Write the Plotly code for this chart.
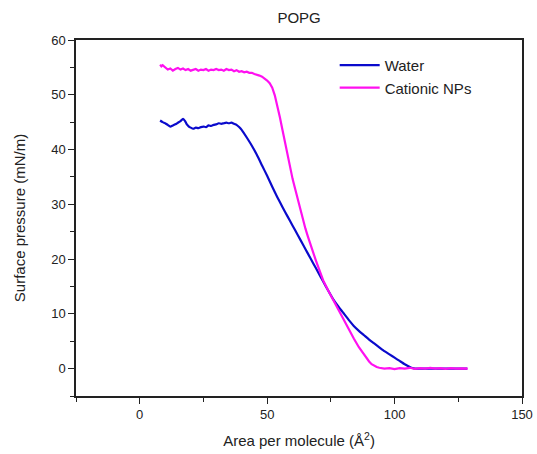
import plotly.graph_objects as go

# ---- data ----
water_x = [8.0, 9, 10, 11, 12, 13, 14, 15, 16, 17, 17.8, 18.5, 19.3, 20, 21, 22, 23, 24, 25, 26,
           27, 28, 29, 30, 31, 32, 33, 34, 35, 36, 37, 38, 39, 40, 42, 44, 46, 48, 50, 52,
           54, 56, 58, 60, 62, 64, 66, 68, 70, 72, 74, 76, 78, 80, 82, 84, 86, 88, 90, 92,
           94, 96, 98, 100, 102, 104, 106, 107, 108, 112, 116, 120, 124, 128.5]
water_y = [45.3, 45.0, 44.8, 44.5, 44.2, 44.4, 44.6, 44.9, 45.2, 45.6, 45.2, 44.6, 44.2, 44.0, 43.8, 44.0, 43.9, 44.1, 44.2, 44.1,
           44.4, 44.3, 44.5, 44.6, 44.8, 44.7, 44.8, 44.9, 44.8, 44.9, 44.7, 44.5, 44.1, 43.6, 42.2, 40.7, 39.0, 37.1, 35.2, 33.2,
           31.3, 29.5, 27.8, 26.1, 24.4, 22.7, 21.0, 19.3, 17.6, 15.9, 14.2, 12.6, 11.3, 10.1, 8.9, 7.8, 6.9, 6.1, 5.3, 4.6,
           3.9, 3.2, 2.6, 2.0, 1.4, 0.8, 0.3, 0.1, 0.0, 0.0, 0.0, 0.0, 0.0, 0.0]

np_x = [8.0, 8.5, 9, 10, 11, 12, 13, 14, 15, 16, 17, 18, 19, 20, 21, 22, 23, 24, 25, 26,
        27, 28, 29, 30, 31, 32, 33, 34, 35, 36, 37, 38, 39, 40, 41, 42, 43, 44, 45, 46,
        47, 48, 49, 50, 51, 52, 53, 54, 55, 56, 57, 58, 59, 60, 61, 62, 63, 64, 65, 66,
        67, 68, 69, 70, 71, 72, 74, 76, 78, 80, 82, 84, 86, 88, 90, 91, 92, 93, 94, 95,
        96, 98, 100, 102, 104, 106, 108, 110, 112, 114, 116, 118, 120, 122, 124, 126, 128.7]
np_y = [55.5, 55.2, 55.4, 54.9, 54.6, 54.8, 54.4, 54.7, 54.9, 54.6, 54.8, 54.5, 54.7, 54.4, 54.6, 54.7, 54.4, 54.6, 54.5, 54.7,
        54.4, 54.6, 54.5, 54.7, 54.5, 54.6, 54.4, 54.7, 54.5, 54.6, 54.3, 54.5, 54.2, 54.3, 54.1, 54.2, 54.0, 54.0, 53.8, 53.7,
        53.5, 53.3, 53.0, 52.6, 52.1, 51.3, 49.9, 48.1, 45.9, 43.6, 41.2, 38.8, 36.6, 34.6, 32.8, 30.9, 29.0, 27.2, 25.6, 24.1,
        22.6, 21.2, 19.9, 18.6, 17.3, 16.1, 14.2, 12.4, 10.6, 8.9, 7.2, 5.5, 3.9, 2.5, 1.3, 0.8, 0.5, 0.3, 0.15, 0.05,
        0.0, 0.1, -0.1, 0.1, 0.0, 0.15, -0.05, 0.1, 0.0, 0.15, 0.0, 0.1, -0.05, 0.1, 0.0, 0.05, 0.0]

FONT = "Liberation Sans, Arial, sans-serif"

fig = go.Figure()
fig.add_trace(go.Scatter(x=water_x, y=water_y, mode="lines", name="Water",
                         line=dict(color="#0A0ACC", width=2.2, shape="spline", smoothing=0.5)))
fig.add_trace(go.Scatter(x=np_x, y=np_y, mode="lines", name="Cationic NPs",
                         line=dict(color="#FF10F0", width=2.2)))

axis_common = dict(showline=True, linecolor="#222222", linewidth=1.5, mirror=True,
                   ticks="outside", ticklen=6, tickwidth=1.2, tickcolor="#222222",
                   showgrid=False, zeroline=False, automargin=False,
                   tickfont=dict(family=FONT, size=13, color="#222222"))

fig.update_xaxes(range=[-25, 150], tick0=0, dtick=50,
                 minor=dict(ticks="outside", ticklen=4, tick0=-25, dtick=25, tickcolor="#222222"),
                 title=dict(text="Area per molecule (Å<sup>2</sup>)",
                            font=dict(family=FONT, size=15, color="#222222"), standoff=14),
                 **axis_common)
fig.update_yaxes(range=[-5, 60], tick0=0, dtick=10,
                 minor=dict(ticks="outside", ticklen=4, tick0=-5, dtick=5, tickcolor="#222222"),
                 title=dict(text="Surface pressure (mN/m)",
                            font=dict(family=FONT, size=15, color="#222222"), standoff=22),
                 **axis_common)

fig.update_layout(
    width=537, height=454,
    margin=dict(l=76, r=15, t=40, b=58),
    plot_bgcolor="white", paper_bgcolor="white",
    title=dict(text="POPG", x=0.557, xanchor="center", y=0.96, yanchor="middle",
               font=dict(family=FONT, size=15, color="#222222")),
    legend=dict(x=0.58, y=0.975, xanchor="left", yanchor="top",
                bgcolor="rgba(0,0,0,0)", font=dict(family=FONT, size=15, color="#222222"),
                tracegroupgap=0, itemwidth=40),
    showlegend=True,
)

fig.write_html("out.html", config={"displayModeBar": False},
               post_script="document.body.style.margin='0px';document.body.style.overflow='hidden';")
